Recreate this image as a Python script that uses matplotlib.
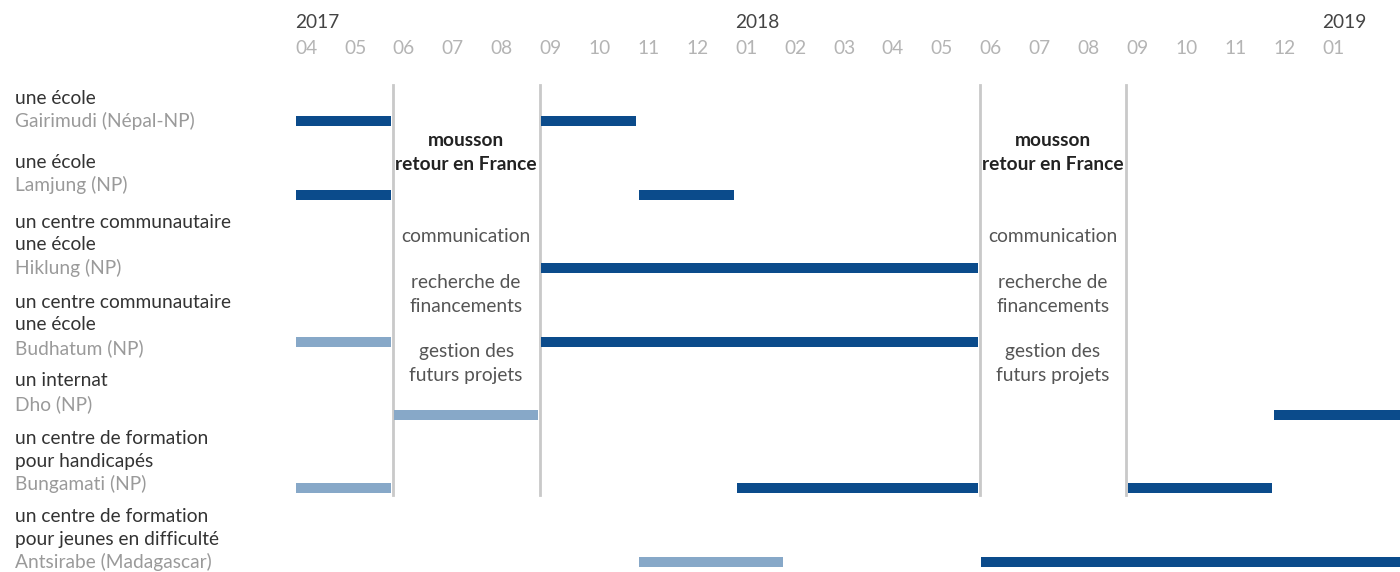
import matplotlib.pyplot as plt
import matplotlib.transforms as mtransforms

# month index 0 = April 2017
months = ["04", "05", "06", "07", "08", "09", "10", "11", "12", "01", "02",
          "03", "04", "05", "06", "07", "08", "09", "10", "11", "12", "01"]
years = ["2017", "2018", "2019"]
year_months = [0, 9, 21]

projects = [
    (["une école"], "Gairimudi (Népal-NP)"),
    (["une école"], "Lamjung (NP)"),
    (["un centre communautaire", "une école"], "Hiklung (NP)"),
    (["un centre communautaire", "une école"], "Budhatum (NP)"),
    (["un internat"], "Dho (NP)"),
    (["un centre de formation", "pour handicapés"], "Bungamati (NP)"),
    (["un centre de formation", "pour jeunes en difficulté"], "Antsirabe (Madagascar)"),
]

# (row, start month, end month) ; light = préparation, dark = réalisation
light_bars = [(3, 0, 2), (4, 2, 5), (5, 0, 2), (6, 7, 10)]
dark_bars = [(0, 0, 2), (0, 5, 7), (1, 0, 2), (1, 7, 9), (2, 5, 14), (3, 5, 14),
             (4, 20, 23), (5, 9, 14), (5, 17, 20), (6, 14, 23)]

breaks = [2, 5, 14, 17]
break_text_bold = ["mousson", "retour en France"]
break_text = ["communication", "recherche de\nfinancements", "gestion des\nfuturs projets"]

DARK = "#0b4b8b"
LIGHT = "#87a8c8"
FONT = "Lato"
FS = 13.8

fig = plt.figure(figsize=(14, 5.72), dpi=100)
ax = fig.add_axes([295 / 1400, 0, 1105 / 1400, 1])
px = 48.9
ax.set_xlim(0, 1105 / px)
row_px = 73.5
ax.set_ylim((572 - 121) / row_px, -121 / row_px)
ax.axis("off")

def py(y):
    return (y - 121) / row_px

h = 10 / row_px
for bars, col in [(light_bars, LIGHT), (dark_bars, DARK)]:
    for r, s, e in bars:
        ax.barh(r, e - s - 0.06, left=s + 0.03, height=h, color=col, clip_on=True)

for b in breaks:
    ax.plot([b, b], [py(85), py(495)], color="#c9c9c9", lw=2, zorder=0)

for i, m in enumerate(months):
    ax.text(i, py(48), m, ha="left", va="center", fontsize=FS, color="#b4b4b4",
            family=FONT)
for y, m in zip(years, year_months):
    ax.text(m, py(22), y, ha="left", va="center", fontsize=FS, color="#444444",
            family=FONT)

# annotations between the breaks
for a, b in [(breaks[0], breaks[1]), (breaks[2], breaks[3])]:
    xc = (a + b) / 2
    ax.text(xc, py(141), break_text_bold[0], ha="center", va="center", fontsize=FS,
            color="#222222", family=FONT, fontweight="bold")
    ax.text(xc, py(165), break_text_bold[1], ha="center", va="center", fontsize=FS,
            color="#222222", family=FONT, fontweight="bold")
    for txt, y in zip(break_text, [237, 294.5, 363.5]):
        ax.text(xc, py(y), txt, ha="center", va="center", fontsize=FS,
                color="#555555", family=FONT, linespacing=1.5)

# project labels on the left
tr = mtransforms.blended_transform_factory(fig.transFigure, ax.transData)
last_line = [121, 185, 268, 348, 404, 484, 562]
for (lines, place), y in zip(projects, last_line):
    ax.text(15 / 1400, py(y), place, transform=tr, ha="left", va="center",
            fontsize=FS, color="#9a9a9a", family=FONT)
    for k, t in enumerate(reversed(lines)):
        ax.text(15 / 1400, py(y - 23 * (k + 1)), t, transform=tr, ha="left",
                va="center", fontsize=FS, color="#333333", family=FONT)

fig.savefig("out.png", dpi=100)
